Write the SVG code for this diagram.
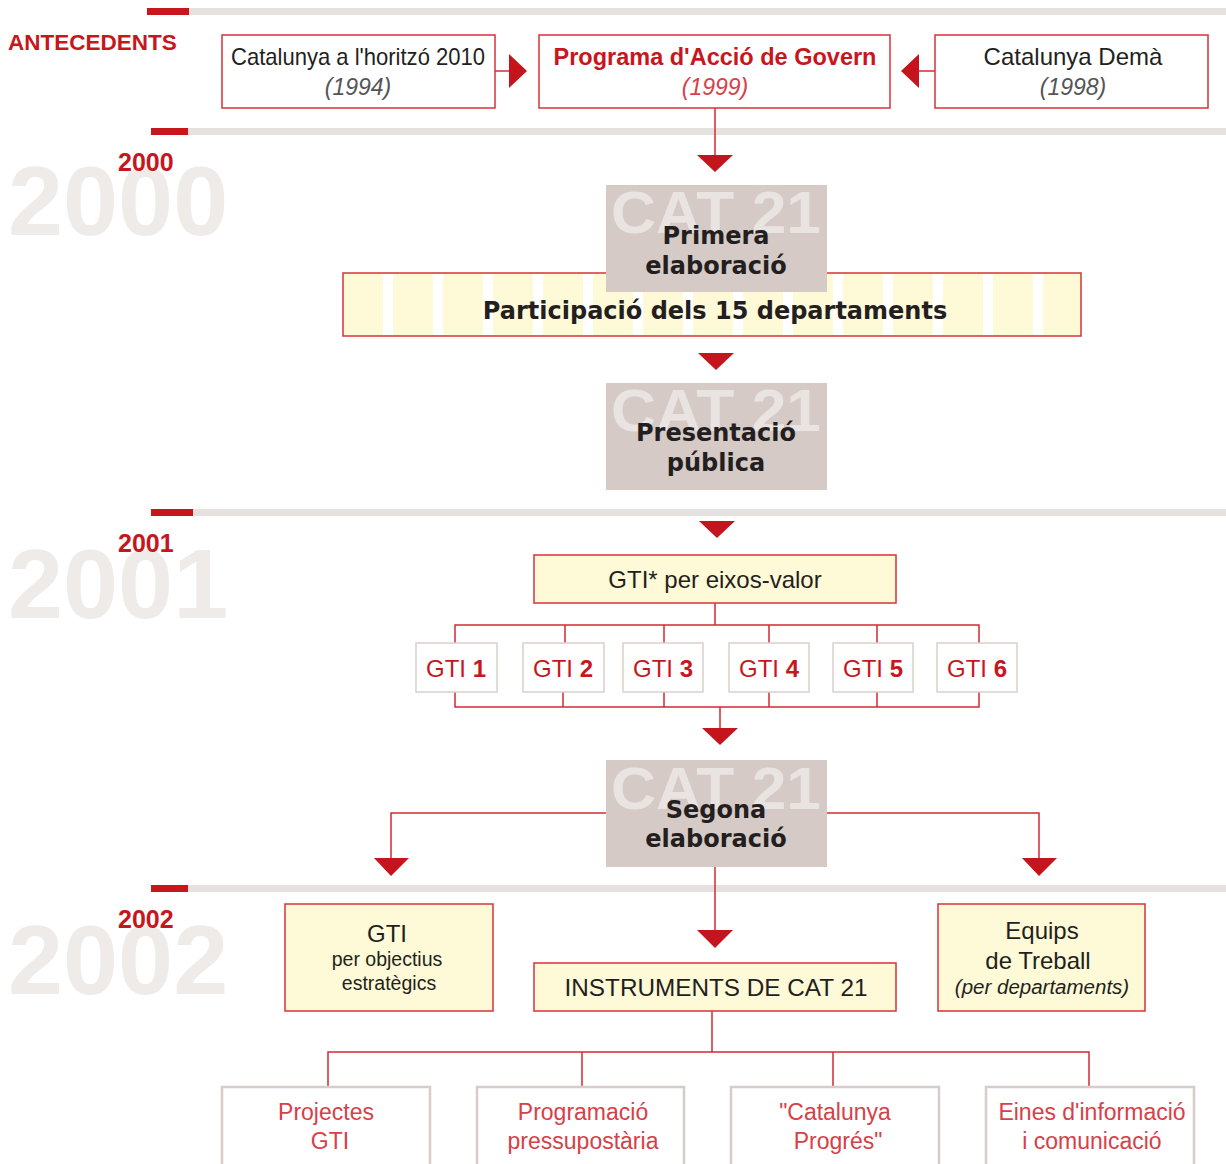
<svg xmlns="http://www.w3.org/2000/svg" width="1226" height="1164" viewBox="0 0 1226 1164">
<style>
.bar{fill:#e6e1de}
.redbar{fill:#c8161d}
.wm{font-family:"Liberation Sans",Arial,sans-serif;font-weight:bold;fill:#efebe9;font-size:99px}
.yr{font-family:"Liberation Sans",Arial,sans-serif;font-weight:bold;fill:#c8161d;font-size:25px}
.rbox{fill:#fff;stroke:#d6333b;stroke-width:1.5}
.ybox{fill:#fef9d6;stroke:#d6333b;stroke-width:1.5}
.gbox{fill:#fff;stroke:#d9d0cc;stroke-width:1.5}
.bbox{fill:#fff;stroke:#d6ccc8;stroke-width:2.5}
.cat{fill:#d5cac6}
.catwm{font-family:"Liberation Sans",Arial,sans-serif;font-weight:bold;fill:#e9e4e1;font-size:60px}
.t{font-family:"Liberation Sans",Arial,sans-serif;fill:#231f20;font-size:24px;text-anchor:middle}
.it{font-family:"Liberation Sans",Arial,sans-serif;font-style:italic;fill:#555;font-size:23px;text-anchor:middle}
.hb{font-family:"DejaVu Sans",Verdana,sans-serif;font-weight:bold;fill:#231f20;font-size:24px;text-anchor:middle}
.gti{font-family:"Liberation Sans",Arial,sans-serif;fill:#c8161d;font-size:24px;text-anchor:middle}
.lt{font-family:"Liberation Sans",Arial,sans-serif;fill:#d84048;font-size:23px;text-anchor:middle}
.ln{fill:none;stroke:#d42a33;stroke-width:1.5}
.ar{fill:#c4141c}
</style>

<g id="timeline">
  <rect class="bar" x="189" y="8" width="1037" height="7"/>
  <rect class="redbar" x="147" y="8" width="42" height="7"/>
  <rect class="bar" x="188" y="128" width="1038" height="7"/>
  <rect class="redbar" x="151" y="128" width="37" height="7"/>
  <rect class="bar" x="193" y="509" width="1033" height="7"/>
  <rect class="redbar" x="151" y="509" width="42" height="7"/>
  <rect class="bar" x="188" y="885" width="1038" height="7"/>
  <rect class="redbar" x="151" y="885" width="37" height="7"/>
</g>

<g id="years">
  <text class="wm" x="8" y="235">2000</text>
  <text class="wm" x="8" y="618">2001</text>
  <text class="wm" x="8" y="994">2002</text>
  <text class="yr" x="118" y="171">2000</text>
  <text class="yr" x="118" y="552">2001</text>
  <text class="yr" x="118" y="928">2002</text>
  <text x="8" y="50" style="font-family:'Liberation Sans',Arial,sans-serif;font-weight:bold;fill:#c8161d;font-size:22.5px">ANTECEDENTS</text>
</g>

<g id="connectors">
  <path class="ln" d="M495 71H510"/>
  <polygon class="ar" points="509,54 527,71 509,88"/>
  <path class="ln" d="M935 71H918"/>
  <polygon class="ar" points="919,54 901,71 919,88"/>
  <path class="ln" d="M715 108V156"/>
  <polygon class="ar" points="697,155 733,155 715,172"/>
  <polygon class="ar" points="698,353 734,353 716,370"/>
  <polygon class="ar" points="699,521 735,521 717,538"/>
  <path class="ln" d="M715 603V625M455 643V625H979V643M565 625V643M664 625V643M769 625V643M877 625V643"/>
  <path class="ln" d="M455 692V707H979V692M563 692V707M664 692V707M769 692V707M877 692V707M720 707V729"/>
  <polygon class="ar" points="702,728 738,728 720,745"/>
  <path class="ln" d="M606 813H391V859"/>
  <polygon class="ar" points="374,858 409,858 391,876"/>
  <path class="ln" d="M827 813H1039V859"/>
  <polygon class="ar" points="1022,858 1057,858 1039,876"/>
  <path class="ln" d="M715 866V931"/>
  <polygon class="ar" points="697,930 733,930 715,948"/>
  <path class="ln" d="M712 1011V1052M328 1087V1052H1089V1087M582 1052V1087M833 1052V1087"/>
</g>

<g id="n-horitzo">
  <rect class="rbox" x="222" y="35" width="273" height="73"/>
  <text class="t" x="358" y="65" textLength="254" lengthAdjust="spacingAndGlyphs">Catalunya a l'horitzó 2010</text>
  <text class="it" x="358" y="95">(1994)</text>
</g>
<g id="n-pag">
  <rect class="rbox" x="539" y="35" width="351" height="73"/>
  <text class="t" x="715" y="65" style="font-weight:bold;fill:#c8161d;font-size:23.5px">Programa d'Acció de Govern</text>
  <text class="it" x="715" y="95" style="fill:#d84048">(1999)</text>
</g>
<g id="n-dema">
  <rect class="rbox" x="935" y="35" width="273" height="73"/>
  <text class="t" x="1073" y="65">Catalunya Demà</text>
  <text class="it" x="1073" y="95">(1998)</text>
</g>

<g id="n-participacio">
  <rect class="ybox" x="343" y="273" width="738" height="63"/>
  <g fill="#fff">
    <rect x="383" y="274" width="10" height="61"/><rect x="433" y="274" width="10" height="61"/>
    <rect x="483" y="274" width="10" height="61"/><rect x="533" y="274" width="10" height="61"/>
    <rect x="583" y="274" width="10" height="61"/><rect x="633" y="274" width="10" height="61"/>
    <rect x="683" y="274" width="10" height="61"/><rect x="733" y="274" width="10" height="61"/>
    <rect x="783" y="274" width="10" height="61"/><rect x="833" y="274" width="10" height="61"/>
    <rect x="883" y="274" width="10" height="61"/><rect x="933" y="274" width="10" height="61"/>
    <rect x="983" y="274" width="10" height="61"/><rect x="1033" y="274" width="10" height="61"/>
  </g>
  <text class="hb" x="715" y="319">Participació dels 15 departaments</text>
</g>

<g id="n-primera">
  <rect class="cat" x="606" y="185" width="221" height="107"/>
  <text class="catwm" x="611" y="233" textLength="210" lengthAdjust="spacingAndGlyphs">CAT 21</text>
  <text class="hb" x="716" y="244">Primera</text>
  <text class="hb" x="716" y="274">elaboració</text>
</g>

<g id="n-presentacio">
  <rect class="cat" x="606" y="383" width="221" height="107"/>
  <text class="catwm" x="611" y="431" textLength="210" lengthAdjust="spacingAndGlyphs">CAT 21</text>
  <text class="hb" x="716" y="441">Presentació</text>
  <text class="hb" x="716" y="471">pública</text>
</g>

<g id="n-gti-eixos">
  <rect class="ybox" x="534" y="555" width="362" height="48"/>
  <text class="t" x="715" y="588">GTI* per eixos-valor</text>
</g>
<g id="n-gti1"><rect class="gbox" x="416" y="643" width="81" height="49"/><text class="gti" x="456" y="677">GTI <tspan font-weight="bold">1</tspan></text></g>
<g id="n-gti2"><rect class="gbox" x="523" y="643" width="81" height="49"/><text class="gti" x="563" y="677">GTI <tspan font-weight="bold">2</tspan></text></g>
<g id="n-gti3"><rect class="gbox" x="623" y="643" width="80" height="49"/><text class="gti" x="663" y="677">GTI <tspan font-weight="bold">3</tspan></text></g>
<g id="n-gti4"><rect class="gbox" x="729" y="643" width="80" height="49"/><text class="gti" x="769" y="677">GTI <tspan font-weight="bold">4</tspan></text></g>
<g id="n-gti5"><rect class="gbox" x="833" y="643" width="80" height="49"/><text class="gti" x="873" y="677">GTI <tspan font-weight="bold">5</tspan></text></g>
<g id="n-gti6"><rect class="gbox" x="937" y="643" width="80" height="49"/><text class="gti" x="977" y="677">GTI <tspan font-weight="bold">6</tspan></text></g>

<g id="n-segona">
  <rect class="cat" x="606" y="760" width="221" height="107"/>
  <text class="catwm" x="611" y="809" textLength="210" lengthAdjust="spacingAndGlyphs">CAT 21</text>
  <text class="hb" x="716" y="818">Segona</text>
  <text class="hb" x="716" y="847">elaboració</text>
</g>

<g id="n-gti-objectius">
  <rect class="ybox" x="285" y="904" width="208" height="107"/>
  <text class="t" x="387" y="942">GTI</text>
  <text class="t" x="387" y="966" style="font-size:19.5px">per objectius</text>
  <text class="t" x="389" y="990" style="font-size:19.5px">estratègics</text>
</g>
<g id="n-instruments">
  <rect class="ybox" x="534" y="963" width="362" height="48"/>
  <text class="t" x="716" y="996" style="font-size:24.3px">INSTRUMENTS DE CAT 21</text>
</g>
<g id="n-equips">
  <rect class="ybox" x="938" y="904" width="207" height="107"/>
  <text class="t" x="1042" y="939">Equips</text>
  <text class="t" x="1038" y="969">de Treball</text>
  <text class="t" x="1042" y="994" style="font-style:italic;font-size:20.5px">(per departaments)</text>
</g>

<g id="n-projectes">
  <rect class="bbox" x="222" y="1087" width="208" height="90"/>
  <text class="lt" x="326" y="1120">Projectes</text>
  <text class="lt" x="330" y="1149">GTI</text>
</g>
<g id="n-programacio">
  <rect class="bbox" x="477" y="1087" width="207" height="90"/>
  <text class="lt" x="583" y="1120">Programació</text>
  <text class="lt" x="583" y="1149">pressupostària</text>
</g>
<g id="n-progres">
  <rect class="bbox" x="731" y="1087" width="208" height="90"/>
  <text class="lt" x="835" y="1120">"Catalunya</text>
  <text class="lt" x="838" y="1149">Progrés"</text>
</g>
<g id="n-eines">
  <rect class="bbox" x="986" y="1087" width="208" height="90"/>
  <text class="lt" x="1092" y="1120">Eines d'informació</text>
  <text class="lt" x="1092" y="1149">i comunicació</text>
</g>
</svg>
